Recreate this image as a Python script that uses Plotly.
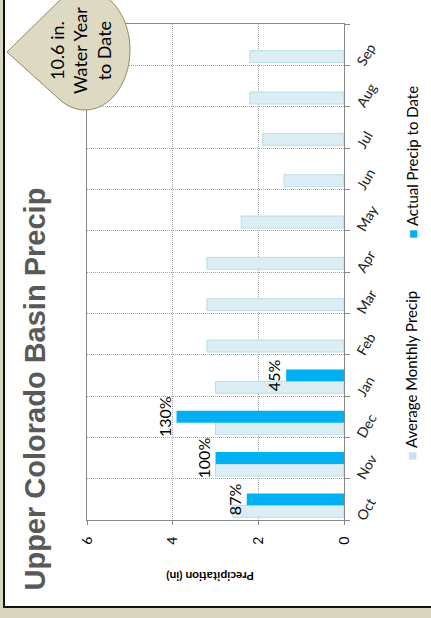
import numpy as np
import plotly.graph_objects as go

months = ["Oct", "Nov", "Dec", "Jan", "Feb", "Mar", "Apr", "May", "Jun", "Jul", "Aug", "Sep"]
avg_precip = [2.6, 3.0, 3.0, 3.0, 3.2, 3.2, 3.2, 2.4, 1.4, 1.9, 2.2, 2.2]
actual_precip = [2.27, 3.0, 3.91, 1.35, None, None, None, None, None, None, None, None]
pct_labels = ["87%", "100%", "130%", "45%", "", "", "", "", "", "", "", ""]
value_ticks = [0, 2, 4, 6]
callout_text = "10.6 in.<br>Water Year<br>to Date"
title_text = "Upper Colorado Basin Precip"
axis_title = "Precipitation (in)"
legend_names = ["Average Monthly Precip", "Actual Precip to Date"]

W, H = 431, 618
PX0, PX1, PY0, PY1 = 87, 344, 24, 520  # plot area in pixels


def px(x):
    return (x - PX0) / (PX1 - PX0)


def py(y):
    return (PY1 - y) / (PY1 - PY0)


FONT = "Lato, Open Sans, sans-serif"
AVG_FILL = "#DAEEF3"
AVG_LINE = "#B7DDE8"
ACT_FILL = "#00B0F0"

fig = go.Figure()
fig.add_trace(go.Bar(
    y=months, x=avg_precip, orientation="h", name=legend_names[0],
    marker=dict(color=AVG_FILL, line=dict(color=AVG_LINE, width=1)),
    width=0.29, offset=-0.436, showlegend=False,
))
fig.add_trace(go.Bar(
    y=months, x=actual_precip, orientation="h", name=legend_names[1],
    marker=dict(color=ACT_FILL, line=dict(width=0)),
    width=0.29, offset=-0.146, showlegend=False,
    text=pct_labels, textposition="outside", textangle=-90,
    textfont=dict(family=FONT, size=16, color="#000000"),
    cliponaxis=False, constraintext="none",
))

axcol = "#868686"
gridcol = "#A6A6A6"
fig.update_layout(
    width=W, height=H,
    margin=dict(l=PX0, r=W - PX1, t=PY0, b=H - PY1, autoexpand=False),
    paper_bgcolor="#D8D5C0",
    plot_bgcolor="#FFFFFF",
    barmode="overlay",
    showlegend=False,
    xaxis=dict(
        range=[6, 0], tickvals=value_ticks, tickangle=-90, automargin=False,
        showgrid=True, gridcolor=gridcol, griddash="1px,1px", gridwidth=1,
        showline=True, linecolor=axcol, linewidth=1, mirror=True,
        ticks="outside", ticklen=4, tickcolor=axcol,
        zeroline=False,
        tickfont=dict(family=FONT, size=14, color="#000000"),
        ticklabelstandoff=6,
    ),
    yaxis=dict(
        type="category", categoryorder="array", categoryarray=months,
        side="right", tickson="boundaries", automargin=False,
        showgrid=True, gridcolor=gridcol, griddash="1px,1px", gridwidth=1,
        showline=True, linecolor=axcol, linewidth=1, mirror=True,
        ticks="outside", ticklen=5, tickcolor=axcol,
        tickangle=-60,
        tickfont=dict(family=FONT, size=14, color="#222222"),
        ticklabelshift=21, ticklabelstandoff=11,
    ),
)

shapes = []
# white chart area with dark frame (left + bottom)
shapes.append(dict(type="rect", xref="paper", yref="paper", layer="below",
                   x0=px(4), x1=px(445), y0=py(-10), y1=py(607),
                   fillcolor="#FFFFFF", line=dict(color="#111111", width=2)))
# teardrop callout
cx, cy, rx, ry = 85.0, 50.0, 45.0, 60.0
tip = (7.0, 52.0)
ts = np.linspace(np.deg2rad(-125.2), np.deg2rad(125.2), 60)
pts = [(cx + rx * np.cos(t), cy + ry * np.sin(t)) for t in ts]
path = f"M {px(tip[0]):.5f},{py(tip[1]):.5f} " + " ".join(
    f"L {px(a):.5f},{py(b):.5f}" for a, b in pts) + " Z"
shapes.append(dict(type="path", xref="paper", yref="paper", layer="above",
                   path=path, fillcolor="#DDD9C3", line=dict(color="#948A54", width=1)))
fig.update_layout(shapes=shapes)

annotations = [
    dict(text=callout_text, x=px(80), y=py(51), xref="paper", yref="paper",
         showarrow=False, textangle=-90, xanchor="center", yanchor="middle",
         font=dict(family=FONT, size=18, color="#000000"), align="center"),
    dict(text=f"<b>{title_text}</b>", x=px(35), y=py(389.5), xref="paper", yref="paper",
         showarrow=False, textangle=-90, xanchor="center", yanchor="middle",
         font=dict(family="Liberation Sans, Arial, sans-serif", size=29, color="#595959")),
    dict(text=f"<b>{axis_title}</b>", x=px(210), y=py(577), xref="paper", yref="paper",
         showarrow=False, textangle=180, xanchor="center", yanchor="middle",
         font=dict(family=FONT, size=12, color="#000000")),
    dict(text=f'<span style="color:#C6E4EE">■</span> {legend_names[0]}',
         x=px(410), y=py(375.5), xref="paper", yref="paper",
         showarrow=False, textangle=-90, xanchor="center", yanchor="middle",
         font=dict(family=FONT, size=15, color="#000000")),
    dict(text=f'<span style="color:{ACT_FILL}">■</span> {legend_names[1]}',
         x=px(412), y=py(162.5), xref="paper", yref="paper",
         showarrow=False, textangle=-90, xanchor="center", yanchor="middle",
         font=dict(family=FONT, size=15, color="#000000")),
]
fig.update_layout(annotations=annotations)

fig.write_html(
    "out.html",
    config={"displayModeBar": False},
    post_script="document.body.style.margin='0';document.body.style.overflow='hidden';",
)
